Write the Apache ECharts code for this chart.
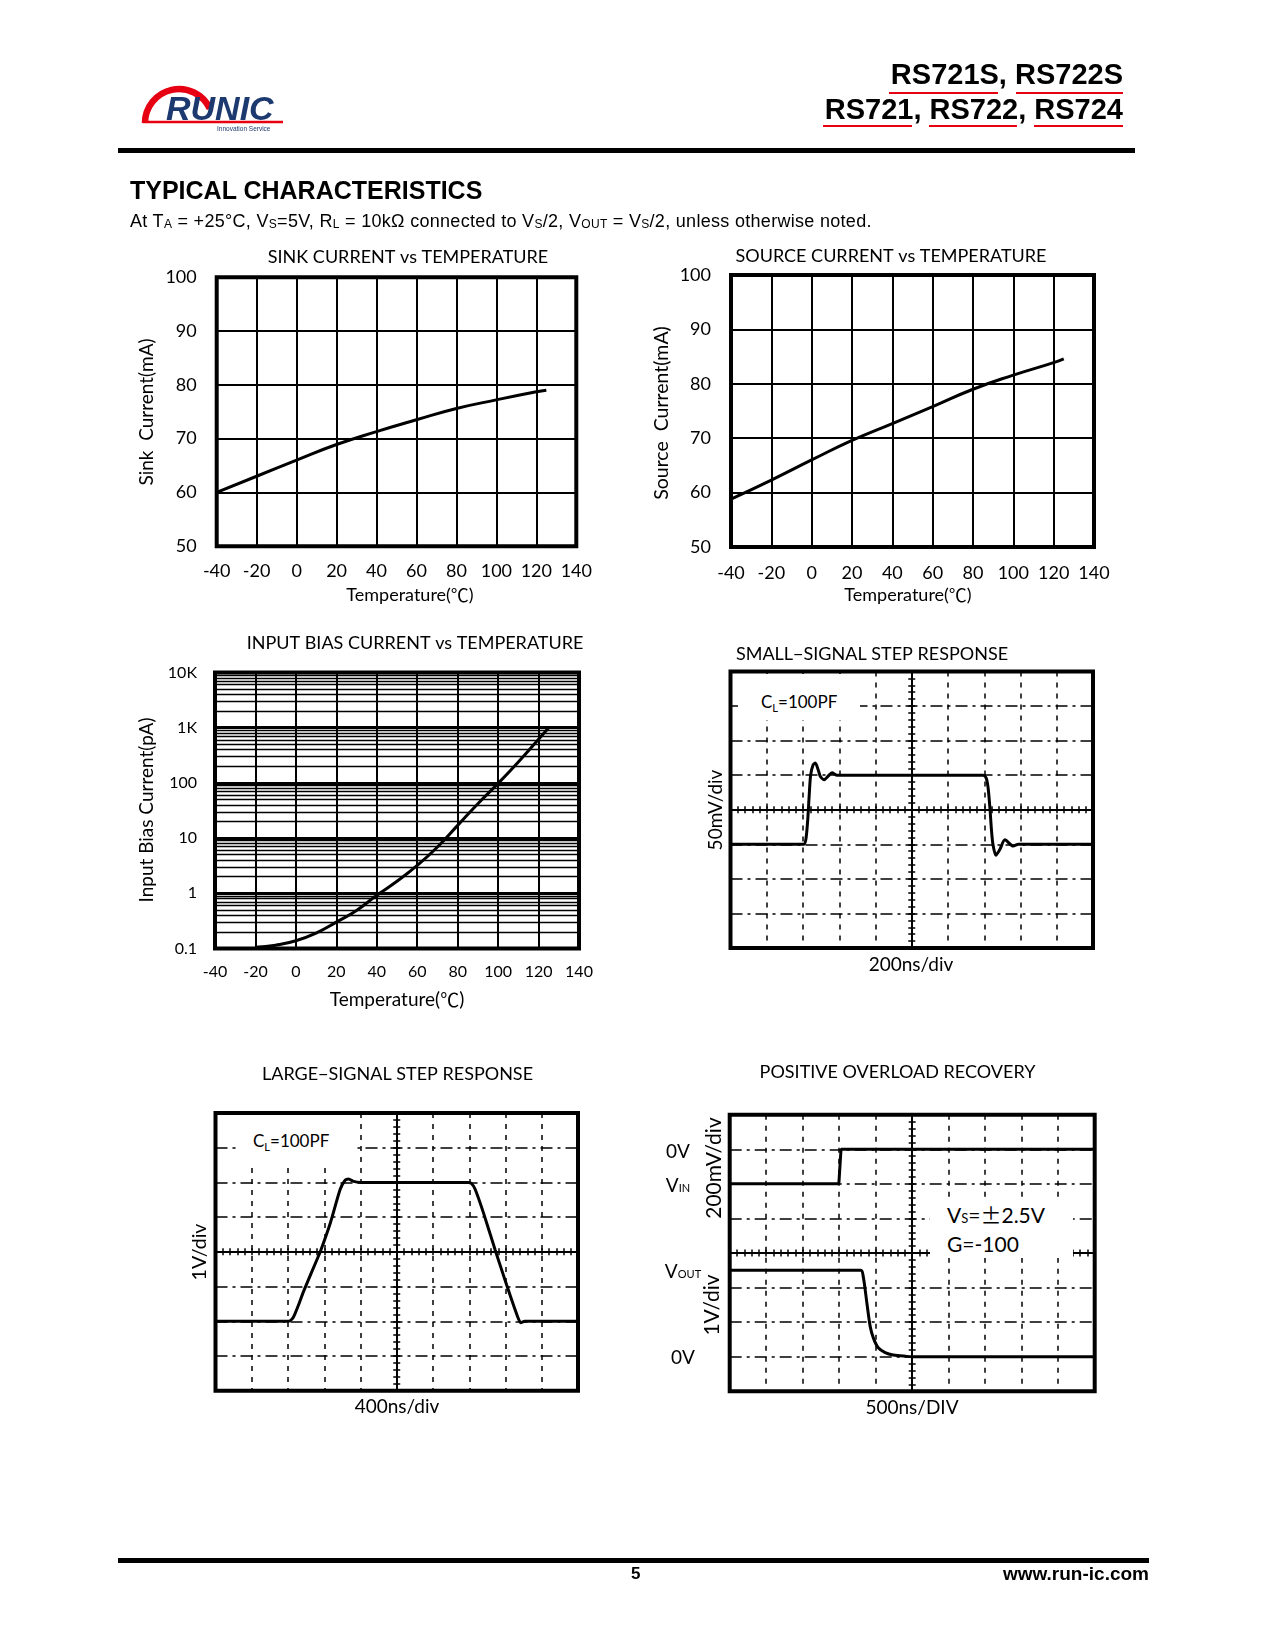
<!DOCTYPE html>
<html><head><meta charset="utf-8">
<script src="https://cdn.jsdelivr.net/npm/echarts@6/dist/echarts.min.js"></script>
<style>
html,body{margin:0;padding:0;background:#fff;}
#page{position:relative;width:1275px;height:1651px;overflow:hidden;background:#fff;font-family:"Liberation Sans",Arial,sans-serif;color:#000;}
#chart{position:absolute;left:0;top:0;width:1275px;height:1651px;}
.abs{position:absolute;z-index:2;white-space:nowrap;}
.hdr{position:absolute;right:152px;font-weight:bold;font-size:29px;line-height:29px;white-space:nowrap;z-index:2;}
.ul{position:absolute;height:2.5px;background:#e60012;z-index:2;}
.rule{position:absolute;background:#000;z-index:2;}
.s{font-size:12px;vertical-align:-1px;}
.lbl{position:absolute;transform:translate(-50%,-50%);white-space:nowrap;font-family:Lato,"Open Sans",sans-serif;z-index:3;}
.box{position:absolute;background:#fff;z-index:3;font-family:Lato,"Open Sans",sans-serif;white-space:nowrap;}
</style></head>
<body><div id="page">
<div id="chart"></div>

<svg class="abs" style="left:0;top:0" width="300" height="140" viewBox="0 0 300 140">
  <path d="M145 123 A34 34 0 0 1 209.8 108.6" fill="none" stroke="#e60012" stroke-width="6.5"/>
  <line x1="143" y1="122" x2="283" y2="122" stroke="#e60012" stroke-width="2.5"/>
  <text x="166" y="120" font-family="Liberation Sans, Arial" font-weight="bold" font-style="italic" font-size="34" fill="#1d3a70">RUNIC</text>
  <text x="217" y="131" font-family="Liberation Sans, Arial" font-size="6.5" fill="#1d3a70">Innovation Service</text>
</svg>

<div class="hdr" style="top:60px">RS721S, RS722S</div>
<div class="hdr" style="top:95px">RS721, RS722, RS724</div>
<div class="ul" style="left:889px;top:91.5px;width:109px"></div>
<div class="ul" style="left:1016px;top:91.5px;width:107px"></div>
<div class="ul" style="left:823px;top:124.8px;width:89px"></div>
<div class="ul" style="left:929px;top:124.8px;width:88px"></div>
<div class="ul" style="left:1034px;top:124.8px;width:89px"></div>
<div class="rule" style="left:118px;top:148px;width:1017px;height:5px"></div>

<div class="abs" style="left:130px;top:178px;font-size:25px;line-height:25px;font-weight:bold">TYPICAL CHARACTERISTICS</div>
<div class="abs" style="left:130px;top:212px;font-size:18px;line-height:18px;letter-spacing:0.3px">At T<span class="s">A</span> = +25°C, V<span class="s">S</span>=5V, R<span class="s">L</span> = 10kΩ connected to V<span class="s">S</span>/2, V<span class="s">OUT</span> = V<span class="s">S</span>/2, unless otherwise noted.</div>

<div class="box" style="left:738px;top:674px;width:122px;height:46px;font-size:17px;line-height:20px;padding:0;"><div style="position:absolute;left:23px;top:18px">C<span style="font-size:11px;vertical-align:-4px">L</span>=100PF</div></div>
<div class="box" style="left:240px;top:1115px;width:114px;height:50px;font-size:17px;line-height:20px;"><div style="position:absolute;left:13px;top:16px">C<span style="font-size:11px;vertical-align:-4px">L</span>=100PF</div></div>
<div class="box" style="left:930px;top:1199px;width:143px;height:59px;font-size:21px;line-height:30px;"><div style="position:absolute;left:17px;top:0">V<span style="font-size:13px">S</span>=<span style="font-family:'Noto Sans CJK SC'">±</span>2.5V</div><div style="position:absolute;left:17px;top:30px">G=-100</div></div>

<div class="lbl" style="left:678px;top:1150px;font-size:19px">0V</div>
<div class="lbl" style="left:678px;top:1184px;font-size:19px">V<span style="font-size:11px">IN</span></div>
<div class="lbl" style="left:683px;top:1270px;font-size:19px">V<span style="font-size:11px">OUT</span></div>
<div class="lbl" style="left:683px;top:1356px;font-size:19px">0V</div>

<div class="rule" style="left:118px;top:1558px;width:1031px;height:5px"></div>
<div class="abs" style="left:631px;top:1565px;font-size:17px;line-height:17px;font-weight:bold">5</div>
<div class="abs" style="right:126px;top:1565px;font-size:19px;line-height:17px;font-weight:bold">www.run-ic.com</div>
</div>

<script>
// ---------------- data ----------------
const sinkTemp = [-40, -20, 0, 20, 40, 60, 80, 100, 120, 125];
const sinkCurrent = [60.0, 63.0, 66.0, 68.9, 71.3, 73.5, 75.6, 77.2, 78.7, 79.0];

const sourceTemp = [-40, -20, 0, 20, 40, 60, 80, 100, 120, 125];
const sourceCurrent = [58.8, 62.3, 66.0, 69.6, 72.7, 75.8, 79.0, 81.6, 83.9, 84.6];

const biasTemp = [-20, -10, 0, 10, 20, 30, 40, 50, 60, 70, 80, 90, 100, 110, 120, 125];
const biasCurrent = [0.105, 0.115, 0.138, 0.19, 0.3, 0.49, 0.92, 1.65, 3.2, 6.9, 17, 42, 98, 240, 620, 1000];
const biasTickLabels = ['0.1', '1', '10', '100', '1K', '10K'];

// scope traces: time in divisions from screen centre, amplitude in divisions
const smallT = [-5, -2.98, -2.92, -2.87, -2.83, -2.79, -2.72, -2.66, -2.58, -2.52, -2.42, -2.3, -2.2, -2.06, 1.97, 2.06, 2.11, 2.16, 2.2, 2.24, 2.32, 2.43, 2.57, 2.8, 2.94, 5];
const smallV = [-1, -1, -0.85, -0.3, 0.4, 1.0, 1.3, 1.35, 1.15, 0.96, 0.87, 0.98, 1.07, 1.0, 1.0, 0.9, 0.6, 0.0, -0.6, -1.0, -1.32, -1.15, -0.87, -1.05, -1.0, -1];

const largeT = [-5, -2.98, -2.9, -2.84, -2.71, -2.57, -2.2, -2.11, -1.83, -1.56, -1.42, -1.33, -1.19, -1.0, 1.97, 2.06, 2.16, 2.39, 2.71, 3.03, 3.3, 3.42, 3.53, 5];
const largeV = [-2, -2, -1.95, -1.86, -1.53, -1.14, -0.22, 0, 0.84, 1.8, 2.07, 2.1, 2.03, 2.0, 2.0, 1.97, 1.81, 1.13, 0.07, -0.95, -1.77, -2.04, -2.0, -2];

const vinT = [-5, -2.01, -1.95, 5];
const vinV = [2, 2, 3, 3];
const voutT = [-5, -1.41, -1.34, -1.24, -1.15, -1.06, -0.93, -0.74, -0.52, -0.15, 0, 5];
const voutV = [-0.5, -0.5, -0.69, -1.46, -2.13, -2.47, -2.74, -2.88, -2.95, -2.99, -3, -3];

// ---------------- helpers ----------------
const FONT = 'Lato, "Open Sans", sans-serif';
const CJK = '"Noto Sans CJK SC", sans-serif';
const pairs = (xs, ys) => xs.map((x, i) => [x, ys[i]]);

function plotGrid(l, t, w, h) {
  return {left: l, top: t, width: w, height: h, show: true, borderColor: '#000', borderWidth: 4,
          backgroundColor: 'transparent', containLabel: false, outerBoundsMode: 'none'};
}
function tempAxis(gi, fs, margin) {
  return {gridIndex: gi, type: 'value', min: -40, max: 140, interval: 20,
    axisLine: {show: false}, axisTick: {show: false},
    splitLine: {show: true, lineStyle: {color: '#000', width: 2}},
    axisLabel: {color: '#000', fontSize: fs, fontFamily: FONT, margin: margin, showMinLabel: true, showMaxLabel: true}};
}
function currentAxis(gi) {
  return {gridIndex: gi, type: 'value', min: 50, max: 100, interval: 10,
    axisLine: {show: false}, axisTick: {show: false},
    splitLine: {show: true, lineStyle: {color: '#000', width: 2}},
    axisLabel: {color: '#000', fontSize: 18, fontFamily: FONT, margin: 20, showMinLabel: true, showMaxLabel: true}};
}
function scopeX(gi, inside, split) {
  return {gridIndex: gi, type: 'value', min: -5, max: 5, interval: 1, position: 'bottom',
    axisLine: {show: true, onZero: true, lineStyle: {color: '#000', width: 2}},
    axisTick: {show: true, inside: inside, length: 3.5, lineStyle: {color: '#000', width: 1.5}},
    minorTick: {show: true, splitNumber: 5, length: 3.5, lineStyle: {color: '#000', width: 1.5}},
    axisLabel: {show: false},
    splitLine: {show: split, lineStyle: {color: '#000', width: 1.5, type: [5, 6]}}};
}
function scopeY(gi, inside, split) {
  return {gridIndex: gi, type: 'value', min: -4, max: 4, interval: 1, position: 'left',
    axisLine: {show: true, onZero: true, lineStyle: {color: '#000', width: 2}},
    axisTick: {show: true, inside: inside, length: 3.5, lineStyle: {color: '#000', width: 1.5}},
    minorTick: {show: true, splitNumber: 5, length: 3.5, lineStyle: {color: '#000', width: 1.5}},
    axisLabel: {show: false},
    splitLine: {show: split, lineStyle: {color: '#000', width: 1.5, type: [12, 5, 3, 5]}}};
}
function trace(xi, yi, data, smooth) {
  return {type: 'line', xAxisIndex: xi, yAxisIndex: yi, data: data, smooth: smooth,
    symbol: 'none', lineStyle: {color: '#000', width: 3}, silent: true, z: 5};
}
function txt(x, y, s, size, rot) {
  return {type: 'text', x: x, y: y, z: 101, rotation: rot ? Math.PI / 2 : 0,
    style: {text: s, fontSize: size, fontFamily: FONT, fill: '#000', align: 'center', verticalAlign: 'middle'}};
}
function tempName(x, y, size) {
  return {type: 'text', x: x, y: y, z: 101,
    style: {text: '{a|Temperature(}{b|℃}{a|)}', fill: '#000', align: 'center', verticalAlign: 'middle',
      rich: {a: {fontSize: size, fontFamily: FONT, fill: '#000'}, b: {fontSize: size, fontFamily: CJK, fill: '#000'}}}};
}

// minor decade lines on the log chart (2..9 x each decade)
const minorLines = [];
[0.1, 1, 10, 100, 1000].forEach(d => [2, 3, 4, 5, 6, 7, 8, 9].forEach(m => minorLines.push({yAxis: +(d * m).toPrecision(3)})));

const option = {
  animation: false,
  backgroundColor: 'transparent',
  grid: [
    plotGrid(216.7, 277.2, 359.6, 269),   // sink
    plotGrid(731, 275, 363, 272),         // source
    plotGrid(215, 672.5, 364, 276),       // bias
    plotGrid(730.5, 671.5, 362.5, 276.5), // small signal
    plotGrid(215.5, 1113, 362.5, 277.7),  // large signal
    plotGrid(729.7, 1114.7, 365, 276.6)   // overload
  ],
  xAxis: [
    tempAxis(0, 18, 16),
    tempAxis(1, 18, 17),
    tempAxis(2, 16, 15),
    scopeX(3, false, true), scopeX(3, true, false),
    scopeX(4, false, true), scopeX(4, true, false),
    scopeX(5, false, true), scopeX(5, true, false)
  ],
  yAxis: [
    currentAxis(0),
    currentAxis(1),
    {gridIndex: 2, type: 'log', logBase: 10, min: 0.1, max: 10000,
      axisLine: {show: false}, axisTick: {show: false},
      splitLine: {show: true, lineStyle: {color: '#000', width: 3}},
      axisLabel: {color: '#000', fontSize: 16, fontFamily: FONT, margin: 18, showMinLabel: true, showMaxLabel: true,
        formatter: v => biasTickLabels[Math.round(Math.log10(v)) + 1]}},
    scopeY(3, false, true), scopeY(3, true, false),
    scopeY(4, false, true), scopeY(4, true, false),
    scopeY(5, false, true), scopeY(5, true, false)
  ],
  series: [
    trace(0, 0, pairs(sinkTemp, sinkCurrent), true),
    trace(1, 1, pairs(sourceTemp, sourceCurrent), true),
    Object.assign(trace(2, 2, pairs(biasTemp, biasCurrent), true), {
      markLine: {silent: true, symbol: ['none', 'none'], label: {show: false}, animation: false,
        lineStyle: {color: '#000', width: 1.3, type: 'solid'}, data: minorLines}
    }),
    trace(3, 3, pairs(smallT, smallV), 0.25),
    trace(5, 5, pairs(largeT, largeV), 0.2),
    trace(7, 7, pairs(vinT, vinV), false),
    trace(7, 7, pairs(voutT, voutV), 0.3)
  ],
  graphic: [
    txt(408, 257, 'SINK CURRENT vs TEMPERATURE', 18),
    tempName(410, 595, 18),
    txt(147, 412, 'Sink  Current(mA)', 19, true),

    txt(891, 256, 'SOURCE CURRENT vs TEMPERATURE', 18),
    tempName(908, 595, 18),
    txt(662, 413, 'Source  Current(mA)', 19.5, true),

    txt(415, 643, 'INPUT BIAS CURRENT vs TEMPERATURE', 18),
    tempName(397, 1000, 19),
    txt(147, 810, 'Input Bias Current(pA)', 19, true),

    txt(872, 654, 'SMALL−SIGNAL STEP RESPONSE', 18),
    txt(911, 965, '200ns/div', 19),
    txt(716, 810, '50mV/div', 19, true),

    txt(397.5, 1074, 'LARGE−SIGNAL STEP RESPONSE', 18),
    txt(397, 1407, '400ns/div', 19),
    txt(200, 1252, '1V/div', 19.5, true),

    txt(897.5, 1072, 'POSITIVE OVERLOAD RECOVERY', 18),
    txt(912, 1408, '500ns/DIV', 19),
    txt(714, 1168, '200mV/div', 21, true),
    txt(712, 1305, '1V/div', 21, true)
  ]
};

const chart = echarts.init(document.getElementById('chart'), null, {renderer: 'canvas'});
chart.setOption(option);
</script>
</body></html>
